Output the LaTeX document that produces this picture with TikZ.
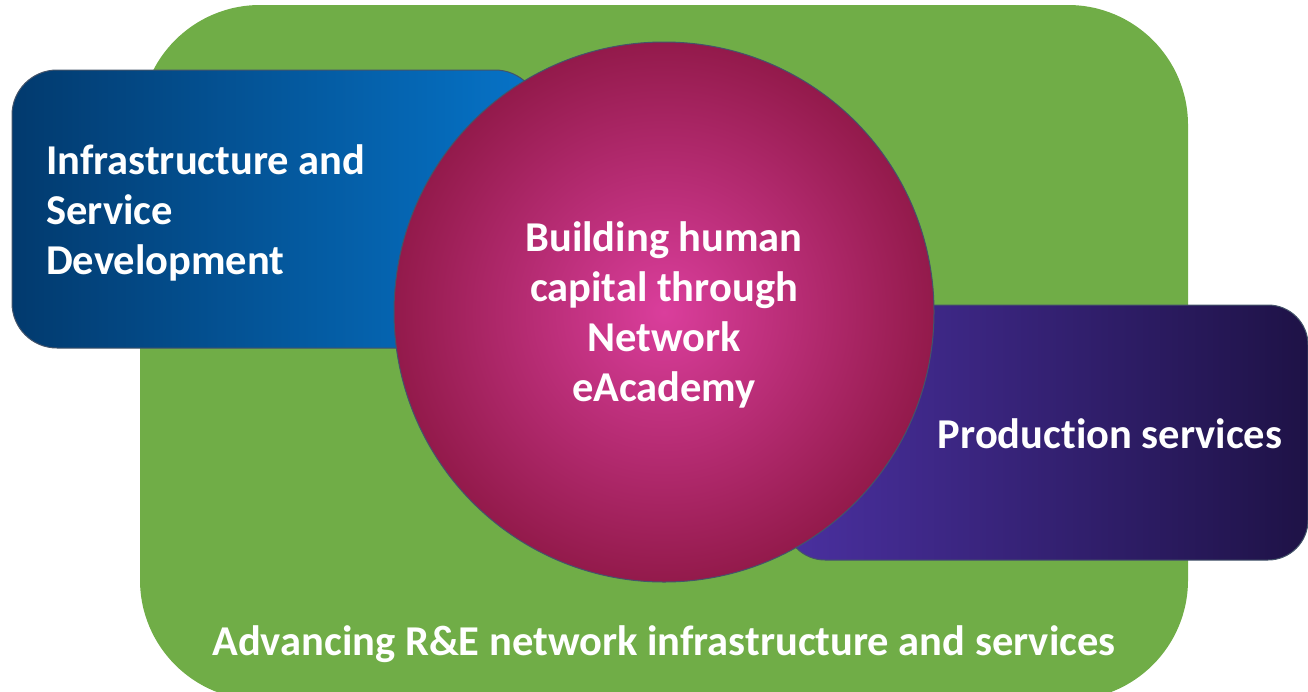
\documentclass[tikz,border=0pt]{standalone}
\usepackage{fontspec}
\setmainfont{Carlito}[RawFeature={-liga}]
\definecolor{bggreen}{HTML}{70AD47}
\definecolor{blueL}{HTML}{023A6E}
\definecolor{blueR}{HTML}{0674C9}
\definecolor{purL}{HTML}{4A30A0}
\definecolor{purR}{HTML}{1E1246}
\definecolor{pinkIn}{HTML}{DA3E9C}
\definecolor{pinkOut}{HTML}{931A4B}
\definecolor{edge}{HTML}{44546A}
\begin{document}
\begin{tikzpicture}[x=1pt,y=-1pt,
  txt/.style={text=white,font=\fontsize{42.5}{50}\selectfont\bfseries,inner sep=0pt},
  panel/.style={rectangle,draw=edge,line width=1pt,inner sep=0pt}]
\useasboundingbox (0,0) rectangle (1308,691);
\clip (0,0) rectangle (1308,691);
\node[rectangle,fill=bggreen,rounded corners=120pt,minimum width=1048pt,minimum height=695pt,inner sep=0pt] (green) at (664,352.5) {};
\node[panel,rounded corners=45pt,left color=blueL,right color=blueR,minimum width=528pt,minimum height=278pt] (blue) at (276,209) {};
\node[panel,rounded corners=40pt,left color=purL,right color=purR,minimum width=523pt,minimum height=255pt] (purple) at (1046.5,432.5) {};
\node[circle,draw=edge,line width=1pt,inner color=pinkIn,outer color=pinkOut,minimum size=540pt,inner sep=0pt] (core) at (664,312) {};
\node[txt,align=left,anchor=west] (infra) at (46,213) {Infrastructure and\\Service\\Development};
\node[txt,align=center] (build) at (664,315) {Building human\\capital through\\Network\\eAcademy};
\node[txt] (prod) at (1110,434) {Production services};
\node[txt] (adv) at (664,644) {Advancing R\&E network infrastructure and services};
\end{tikzpicture}
\end{document}
